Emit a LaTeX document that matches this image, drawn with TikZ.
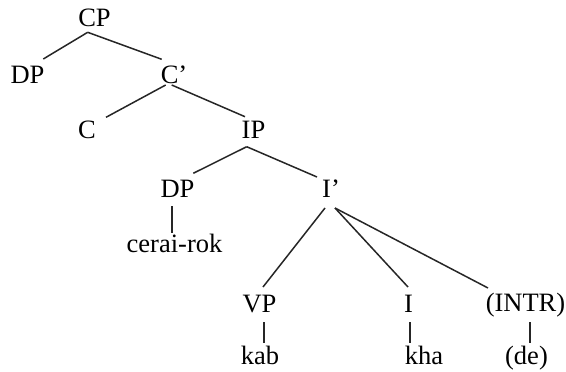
\documentclass[tikz,border=0pt]{standalone}
\usepackage{fontspec}
\setmainfont{Liberation Serif}
\usepackage{tikz}
\usetikzlibrary{positioning}

\begin{document}
\begin{tikzpicture}[
  x=1pt, y=-1pt,
  every node/.style={font=\fontsize{26.5}{30}\selectfont},
  cat/.style={anchor=base, inner sep=0pt, outer sep=0pt},
  branch/.style={line width=1.5pt, black!85},
]
\useasboundingbox (0,0) rectangle (566,372);

% Upper spine
\node[cat] (cp)   at (94.5,27)  {CP};
\node[cat] (spec) at (27.5,83)  {DP};
\node[cat] (cbar) at (174,83)   {C’};
\node[cat] (c)    at (87,138)   {C};
\node[cat] (ip)   at (253.5,138) {IP};

% Subject and I-bar
\node[cat] (subj) at (177.5,197) {DP};
\node[cat] (ibar) at (331,197)   {I’};
\node[cat] (cerai) at (174.5,252) {cerai-rok};

% Lowest row
\node[cat] (vp)   at (259.5,312) {VP};
\node[cat] (infl) at (408.5,312) {I};
\node[cat] (intr) at (525.5,311) {(INTR)};
\node[cat] (kab)  at (260,364)   {kab};
\node[cat] (kha)  at (424,364)   {kha};
\node[cat] (de)   at (526.5,364) {(de)};

% Branches
\draw[branch] ([shift={(-6.8,5.3)}]cp.base) -- ([shift={(15.8,-24)}]spec.base);
\draw[branch] ([shift={(-6.8,5.3)}]cp.base) -- ([shift={(-12.3,-23.7)}]cbar.base);
\draw[branch] ([shift={(-8.3,2)}]cbar.base) -- ([shift={(19,-20.7)}]c.base);
\draw[branch] ([shift={(-2.3,2)}]cbar.base) -- ([shift={(-8.5,-21.3)}]ip.base);
\draw[branch] ([shift={(-6.8,8.7)}]ip.base) -- ([shift={(15.8,-23.7)}]subj.base);
\draw[branch] ([shift={(-6.8,8.7)}]ip.base) -- ([shift={(-14,-20)}]ibar.base);
\draw[branch] ([shift={(-6,11)}]ibar.base) -- ([shift={(3.5,-25)}]vp.base);
\draw[branch] ([shift={(4,11)}]ibar.base) -- ([shift={(-0.5,-25)}]infl.base);
\draw[branch] ([shift={(4,11)}]ibar.base) -- ([shift={(-37.5,-23)}]intr.base);

% Leaves
\draw[branch] ([shift={(-5.5,9)}]subj.base) -- ([shift={(-2.5,-19)}]cerai.base);
\draw[branch] ([shift={(4.5,10)}]vp.base) -- ([shift={(4,-21)}]kab.base);
\draw[branch] ([shift={(1.5,10)}]infl.base) -- ([shift={(-14,-21)}]kha.base);
\draw[branch] ([shift={(4.5,11)}]intr.base) -- ([shift={(3.5,-21)}]de.base);

\end{tikzpicture}
\end{document}
